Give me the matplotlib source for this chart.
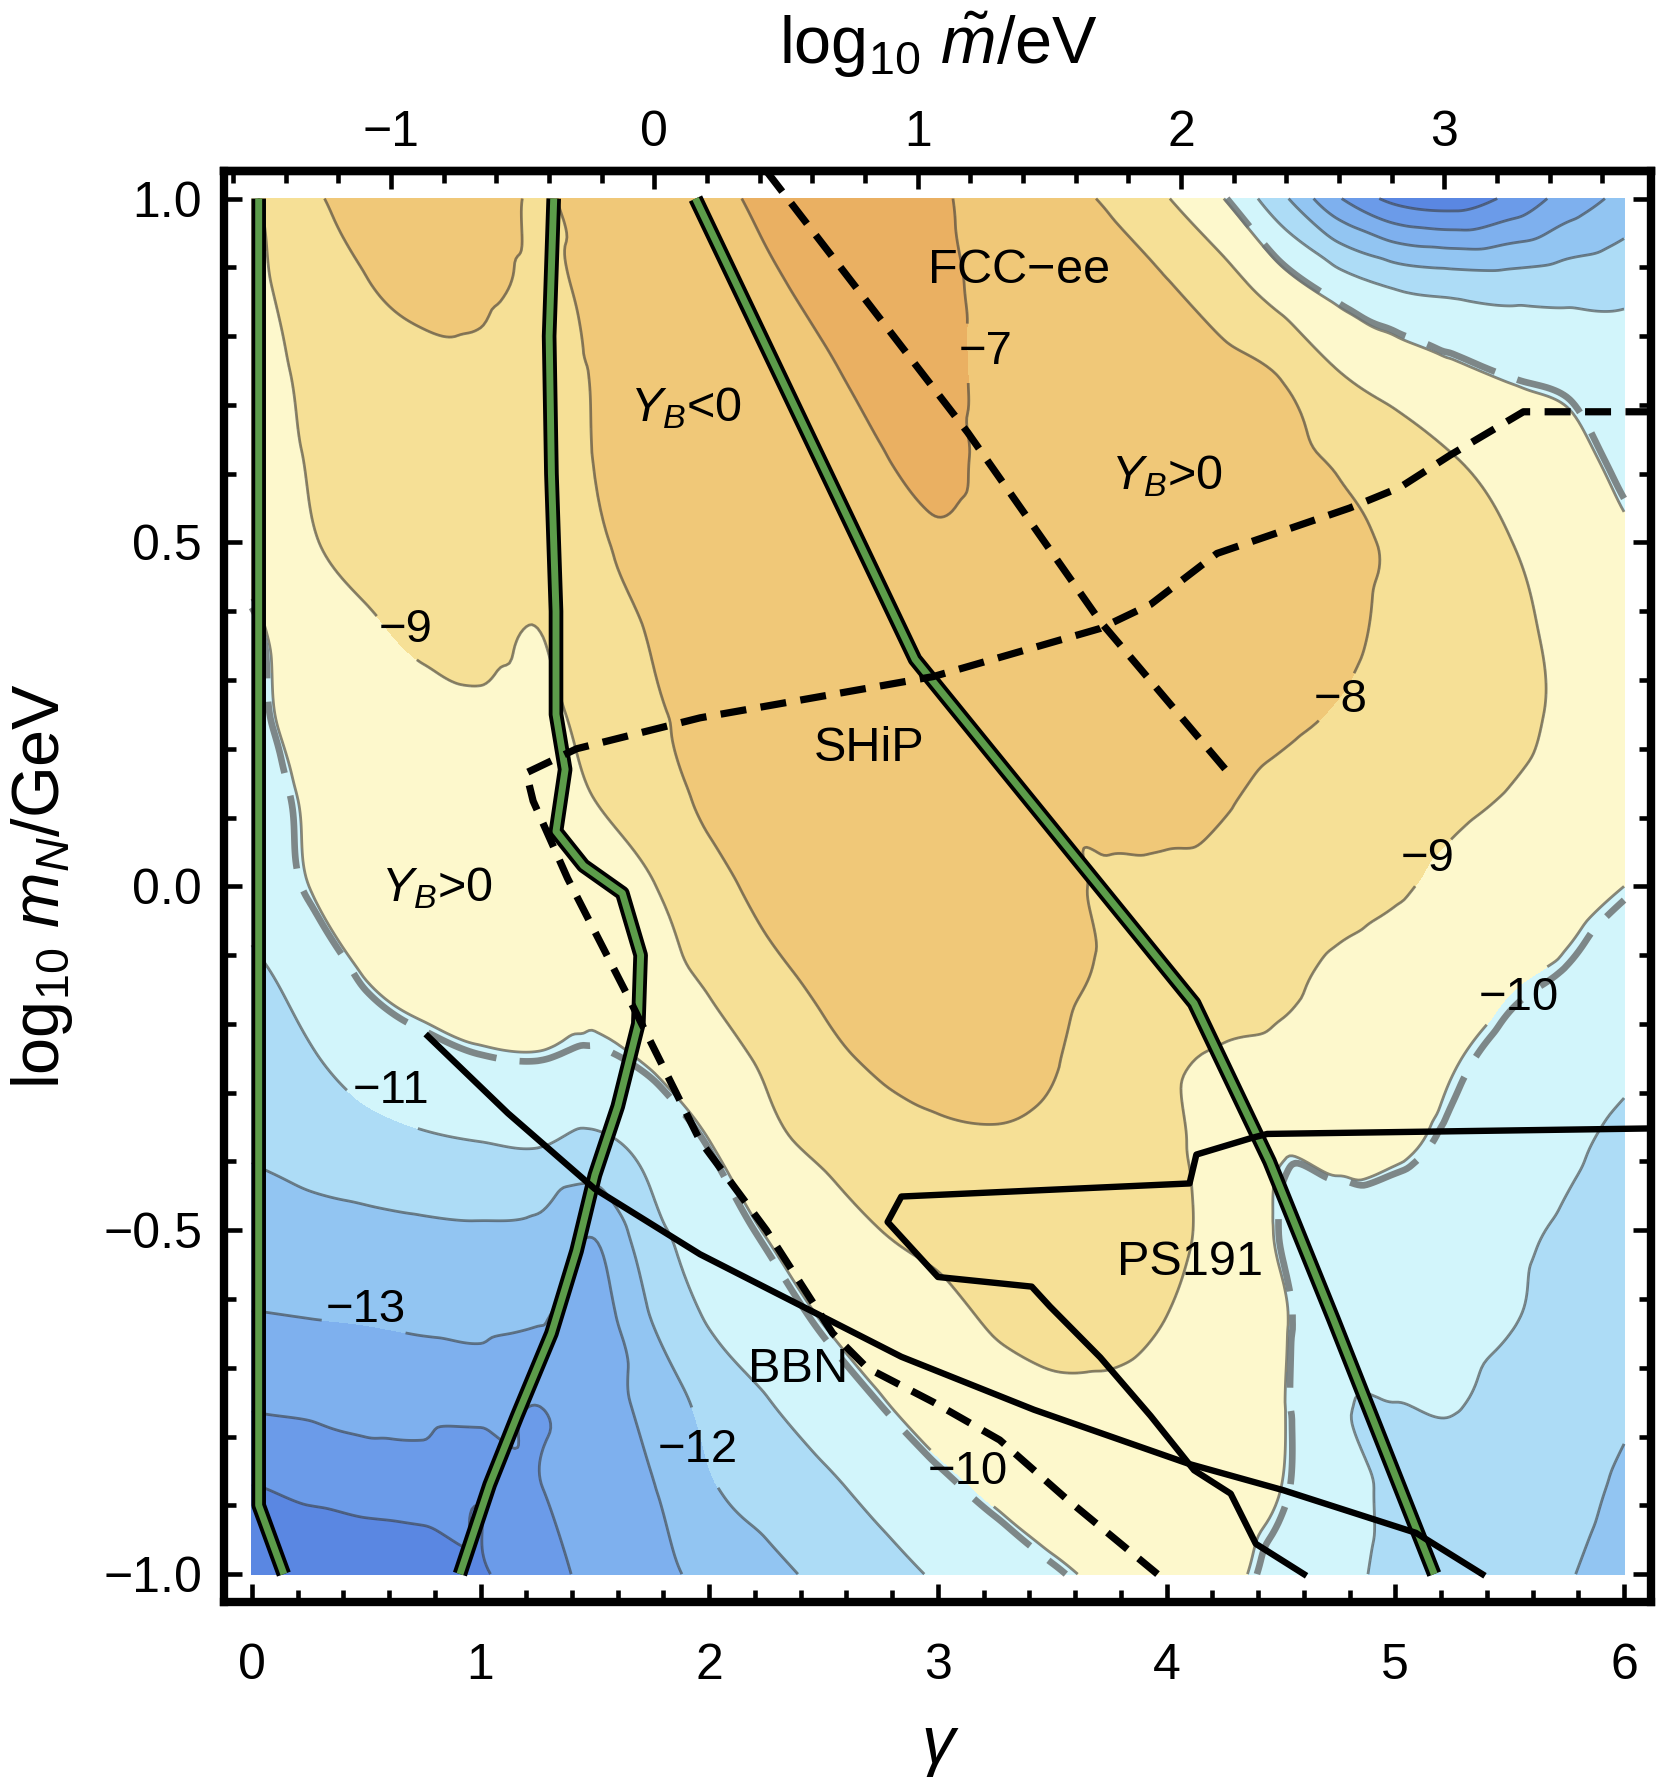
import numpy as np
import matplotlib
matplotlib.use('Agg')
import matplotlib.pyplot as plt
import matplotlib.tri as mtri
from matplotlib.ticker import MultipleLocator, FixedLocator, FuncFormatter

plt.rcParams['font.family'] = 'Liberation Sans'
plt.rcParams['mathtext.fontset'] = 'custom'
plt.rcParams['mathtext.rm'] = 'Liberation Sans'
plt.rcParams['mathtext.it'] = 'Liberation Sans:italic'

# grid of log10|Y_B| (rows: log10 m_N from 1 down to -1)
gamma_nodes = [0.0, 0.25, 0.5, 0.75, 1.0, 1.25, 1.5, 1.75, 2.0, 2.25, 2.5, 2.75, 3.0,
               3.25, 3.5, 3.75, 4.0, 4.25, 4.5, 4.75, 5.0, 5.25, 5.5, 5.75, 6.0]
logm_nodes = [1.0, 0.875, 0.75, 0.625, 0.5, 0.375, 0.25, 0.125, 0.0,
              -0.125, -0.25, -0.375, -0.5, -0.625, -0.75, -0.875, -1.0]
log_yb = [
    [-9.1, -8.15, -7.8, -7.7, -7.75, -8.05, -7.8, -7.75, -7.3, -6.8, -6.6, -6.6, -6.9, -7.3, -7.75, -8.1, -8.95, -10.0, -11.75, -13.9, -15.3, -15.6, -14.8, -13.6, -12.7],
    [-9.2, -8.6, -8.03, -7.85, -7.85, -8.1, -7.9, -7.8, -7.9, -7.2, -6.75, -6.65, -6.8, -7.25, -7.5, -7.7, -7.95, -8.6, -9.6, -10.5, -11.15, -11.4, -11.5, -11.4, -11.25],
    [-9.3, -8.85, -8.4, -8.15, -8.15, -8.5, -7.95, -7.8, -7.85, -7.9, -7.15, -6.75, -6.8, -7.2, -7.45, -7.6, -7.7, -7.8, -8.08, -9.0, -9.5, -9.85, -10.15, -10.3, -10.7],
    [-9.5, -8.95, -8.6, -8.4, -8.35, -8.6, -7.98, -7.8, -7.75, -7.8, -7.7, -7.05, -6.8, -7.2, -7.4, -7.5, -7.55, -7.65, -7.85, -8.1, -8.55, -8.98, -9.35, -9.7, -10.3],
    [-9.6, -9.07, -8.75, -8.55, -8.5, -8.8, -8.1, -7.85, -7.7, -7.65, -7.75, -7.4, -7.1, -7.25, -7.35, -7.4, -7.45, -7.5, -7.65, -7.85, -8.1, -8.55, -8.98, -9.4, -9.85],
    [-10.2, -9.4, -9.1, -8.85, -8.8, -9.0, -8.4, -7.95, -7.75, -7.65, -7.65, -7.8, -7.5, -7.4, -7.4, -7.45, -7.5, -7.55, -7.65, -7.85, -8.15, -8.55, -8.85, -9.15, -9.4],
    [-10.3, -9.6, -9.35, -9.2, -9.1, -9.2, -8.7, -8.1, -7.85, -7.7, -7.65, -7.7, -7.8, -7.55, -7.5, -7.55, -7.6, -7.7, -7.85, -8.05, -8.3, -8.55, -8.85, -9.1, -9.35],
    [-10.5, -9.9, -9.55, -9.4, -9.35, -9.5, -9.0, -8.45, -7.85, -7.7, -7.6, -7.6, -7.65, -7.75, -7.9, -7.75, -7.8, -7.95, -8.2, -8.45, -8.65, -8.85, -9.05, -9.25, -9.5],
    [-10.6, -10.0, -9.65, -9.5, -9.5, -9.6, -9.8, -9.05, -8.3, -7.8, -7.65, -7.6, -7.6, -7.65, -7.8, -8.1, -8.15, -8.2, -8.4, -8.65, -8.9, -9.2, -9.45, -9.75, -10.0],
    [-11.2, -10.6, -9.95, -9.7, -9.65, -9.7, -9.85, -9.3, -8.85, -8.2, -7.85, -7.7, -7.65, -7.65, -7.8, -8.1, -8.35, -8.5, -8.8, -9.15, -9.4, -9.6, -9.9, -10.1, -10.4],
    [-11.7, -11.1, -10.6, -10.3, -10.1, -10.05, -10.15, -9.9, -9.4, -8.85, -8.2, -7.9, -7.8, -7.8, -7.95, -8.4, -8.85, -9.1, -9.2, -9.35, -9.6, -9.95, -10.25, -10.5, -10.8],
    [-11.9, -11.6, -11.35, -11.15, -11.03, -10.95, -11.2, -10.7, -10.03, -9.25, -8.8, -8.35, -8.15, -8.08, -8.15, -8.4, -8.8, -9.4, -9.9, -9.6, -9.85, -10.2, -10.5, -10.85, -11.2],
    [-12.45, -12.35, -12.25, -12.15, -12.1, -12.2, -12.9, -11.25, -10.55, -9.95, -9.5, -9.0, -8.75, -8.55, -8.5, -8.55, -8.8, -9.3, -10.1, -10.7, -10.55, -10.7, -10.85, -11.1, -11.37],
    [-13.05, -12.98, -12.92, -12.82, -12.72, -12.9, -13.4, -11.95, -10.9, -10.45, -9.95, -9.6, -9.25, -8.9, -8.75, -8.75, -9.0, -9.4, -9.9, -10.75, -10.6, -10.75, -10.95, -11.25, -11.6],
    [-13.9, -13.82, -13.72, -13.65, -13.65, -13.98, -13.45, -12.65, -11.7, -11.05, -10.5, -10.05, -9.6, -9.3, -9.15, -9.15, -9.3, -9.6, -9.95, -10.9, -11.0, -10.95, -11.25, -11.55, -11.87],
    [-15.05, -14.75, -14.5, -14.45, -14.9, -14.05, -13.55, -13.05, -12.1, -11.65, -11.2, -10.7, -10.25, -9.85, -9.55, -9.45, -9.45, -9.7, -10.0, -10.55, -11.2, -11.3, -11.5, -11.75, -12.12],
    [-15.5, -16.0, -16.1, -15.9, -15.1, -14.4, -13.75, -13.25, -12.75, -12.25, -11.8, -11.35, -10.9, -10.55, -10.15, -9.85, -9.7, -9.85, -10.25, -10.7, -11.25, -11.5, -11.65, -11.95, -12.3],
]

band_levels = [-40, -15, -14, -13, -12, -11, -10, -9, -8, -7, 0]
band_colors = ['#5a87e2', '#6b9be9', '#7eb0ee', '#92c5f2', '#addcf6',
               '#d2f5fb', '#fdf8cc', '#f6e096', '#f0c878', '#eab062']
line_levels = [-15, -14, -13, -12, -11, -10, -9, -8, -7]
observed = -10.07

# Y_B = 0 curves
zero1_g = [0.03, 0.03, 0.14]
zero1_m = [1.0, -0.9, -1.0]
zero2_g = [1.32, 1.30, 1.31, 1.33, 1.33, 1.37, 1.33, 1.45, 1.62, 1.70, 1.69, 1.60, 1.50, 1.42, 1.31, 1.16, 1.04, 0.91]
zero2_m = [1.0, 0.8, 0.6, 0.4, 0.25, 0.17, 0.08, 0.03, -0.01, -0.1, -0.2, -0.32, -0.42, -0.53, -0.65, -0.77, -0.87, -1.0]
zero3_g = [1.94, 2.9, 4.12, 4.45, 4.73, 5.17]
zero3_m = [1.0, 0.33, -0.17, -0.40, -0.63, -1.0]

# experiments
fcc_g = [2.25, 3.13, 3.71, 4.27]
fcc_m = [1.04, 0.66, 0.385, 0.165]
ship_g = [6.12, 5.56, 5.24, 5.02, 4.80, 4.22, 3.93, 3.71, 2.98, 1.96, 1.42, 1.20, 1.23, 1.38, 1.64,
          1.96, 2.25, 2.54, 2.69, 2.98, 3.27, 3.56, 3.96]
ship_m = [0.69, 0.69, 0.627, 0.58, 0.55, 0.484, 0.41, 0.375, 0.305, 0.245, 0.20, 0.165, 0.124, 0.012, -0.157,
          -0.37, -0.50, -0.65, -0.70, -0.75, -0.805, -0.89, -1.0]
bbn_g = [0.77, 1.12, 1.5, 1.96, 2.84, 3.42, 4.10, 4.51, 5.09, 5.38]
bbn_m = [-0.218, -0.33, -0.44, -0.535, -0.684, -0.761, -0.84, -0.878, -0.94, -1.0]
ps191_g = [6.12, 4.44, 4.37, 4.13, 4.10, 2.84, 2.78, 3.0, 3.41, 3.49, 3.71, 3.93, 4.12, 4.28, 4.39, 4.6]
ps191_m = [-0.352, -0.36, -0.366, -0.39, -0.432, -0.451, -0.488, -0.568, -0.582, -0.611, -0.685, -0.77, -0.849, -0.883, -0.956, -1.0]

contour_labels = {-7: [(3.21, 0.777)], -8: [(4.76, 0.271)], -9: [(0.674, 0.373), (5.14, 0.040)],
                  -10: [(5.54, -0.162), (3.13, -0.852)], -11: [(0.61, -0.298)],
                  -12: [(1.95, -0.819)], -13: [(0.50, -0.616)]}
region_text = [(r'FCC$-$ee', 3.35, 0.896), (r'$Y_B$<0', 1.90, 0.695), (r'$Y_B$>0', 4.0, 0.596),
               ('SHiP', 2.70, 0.20), (r'$Y_B$>0', 0.81, -0.0025), ('PS191', 4.10, -0.547),
               ('BBN', 2.39, -0.703)]
mtilde_ticks = [-1, 0, 1, 2, 3]

# smooth the grid
gx = np.array(gamma_nodes)
gy = np.array(logm_nodes)
Z = np.array(log_yb)
GX, GY = np.meshgrid(gx, gy)
ny, nx = Z.shape
idx = np.arange(ny * nx).reshape(ny, nx)
a = idx[:-1, :-1].ravel()
b = idx[:-1, 1:].ravel()
c = idx[1:, 1:].ravel()
d = idx[1:, :-1].ravel()
tris = np.vstack([np.column_stack([a, b, c]), np.column_stack([a, c, d])])
tri = mtri.Triangulation(GX.ravel(), 2 * GY.ravel(), tris)
interp = mtri.CubicTriInterpolator(tri, Z.ravel(), kind='geom')
xf = np.linspace(0, 6, 481)
yf = np.linspace(-1, 1, 321)
XF, YF = np.meshgrid(xf, yf)
ZF = interp(np.clip(XF, 1e-9, 6 - 1e-9), 2 * np.clip(YF, -1 + 1e-9, 1 - 1e-9))

fig = plt.figure(figsize=(16.67, 17.78), dpi=100)
ax = fig.add_axes([0.1346, 0.0992, 0.8561, 0.8046])

ax.contourf(XF, YF, ZF, levels=band_levels, colors=band_colors, zorder=1)
fmt = lambda v: '\u2212%d' % abs(v)
for lv in line_levels:
    cs = ax.contour(XF, YF, ZF, levels=[lv], colors='#3a3a3a', linewidths=2.0, alpha=0.6,
                    linestyles='solid', zorder=2)
    if lv in contour_labels:
        pos = contour_labels[lv]
        n0 = len(cs.labelTexts)
        ax.clabel(cs, manual=pos, inline=True, inline_spacing=4, fmt=fmt, fontsize=34, colors='black')
        for t, (x, y) in zip(cs.labelTexts[n0:], pos):
            t.set_rotation(0)
            t.set_position((x, y))
            t.set_alpha(1)
ax.contour(XF, YF, ZF, levels=[observed], colors='#6e7474', linewidths=4.8, alpha=0.85,
           linestyles=[(0, (11.0, 3.5))], zorder=2)

for gg, mm in [(zero1_g, zero1_m), (zero2_g, zero2_m), (zero3_g, zero3_m)]:
    ax.plot(gg, mm, color='black', lw=10.5, solid_capstyle='butt', zorder=4)
    ax.plot(gg, mm, color='#5c9c4a', lw=5, solid_capstyle='butt', zorder=4.1)

ax.plot(fcc_g, fcc_m, color='black', lw=5.2, ls=(0, (3.6, 2.0)), zorder=5)
ax.plot(ship_g, ship_m, color='black', lw=5.2, ls=(0, (3.6, 2.0)), zorder=5)
ax.plot(bbn_g, bbn_m, color='black', lw=4.6, zorder=5)
ax.plot(ps191_g, ps191_m, color='black', lw=4.6, zorder=5)

for s, x, y in region_text:
    ax.text(x, y, s, fontsize=35, ha='center', va='center', zorder=6)

ax.set_xlim(-0.12, 6.12)
ax.set_ylim(-1.04, 1.04)
ax.xaxis.set_major_locator(MultipleLocator(1))
ax.xaxis.set_minor_locator(MultipleLocator(0.2))
ax.yaxis.set_major_locator(MultipleLocator(0.5))
ax.yaxis.set_minor_locator(MultipleLocator(0.1))
ax.yaxis.set_major_formatter(FuncFormatter(lambda v, p: ('%.1f' % v).replace('-', '\u2212')))
ax.tick_params(which='both', direction='in', top=False, right=True, width=3.3, labelsize=36)
ax.tick_params(which='major', length=13)
ax.tick_params(which='minor', length=8.5)
ax.tick_params(axis='x', pad=30)
ax.tick_params(axis='y', pad=16)
for sp in ax.spines.values():
    sp.set_linewidth(6)

secax = ax.secondary_xaxis('top', functions=(lambda g: (g - 1.76) / 1.1513, lambda m: 1.1513 * m + 1.76))
secax.xaxis.set_major_locator(FixedLocator(mtilde_ticks))
secax.xaxis.set_minor_locator(MultipleLocator(0.2))
secax.tick_params(which='both', direction='in', width=3.3, labelsize=36, pad=11)
secax.tick_params(which='major', length=13)
secax.tick_params(which='minor', length=8.5)
secax.spines['top'].set_linewidth(6)

fig.text(0.5627, 0.9747, r'$\mathrm{log}_{10}\ \tilde{m}/\mathrm{eV}$', ha='center', va='center', fontsize=48)
fig.text(0.0252, 0.5017, r'$\mathrm{log}_{10}\ m_N/\mathrm{GeV}$', ha='center', va='center',
         rotation=90, fontsize=48)
fig.text(0.5627, 0.018, '\u03b3', ha='center', va='center', fontsize=48, fontstyle='italic')

fig.savefig('out.png', dpi=100)
